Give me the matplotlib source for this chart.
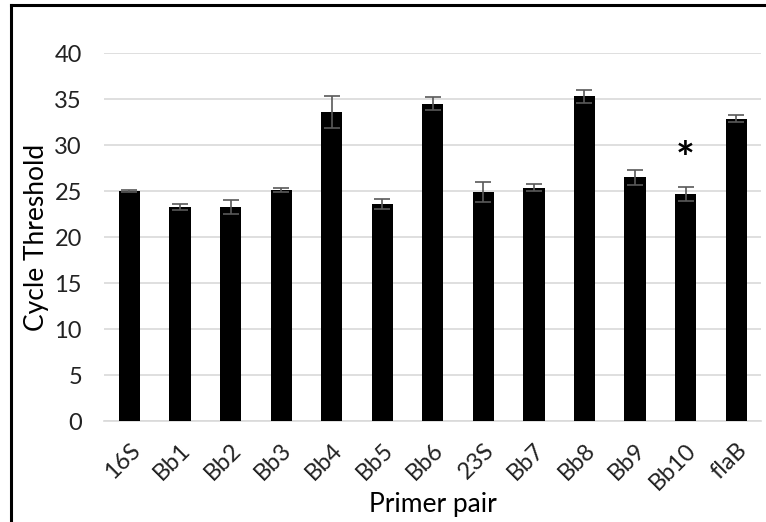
import numpy as np
import matplotlib
matplotlib.use("Agg")
import matplotlib.pyplot as plt
from matplotlib.lines import Line2D

plt.rcParams['font.family'] = ['Lato', 'DejaVu Sans']

# primer pairs and mean cycle thresholds
primers = ["16S", "Bb1", "Bb2", "Bb3", "Bb4", "Bb5", "Bb6",
           "23S", "Bb7", "Bb8", "Bb9", "Bb10", "flaB"]
ct_mean = [25.0, 23.3, 23.3, 25.15, 33.6, 23.6, 34.5,
           24.9, 25.4, 35.3, 26.5, 24.7, 32.9]
ct_err = [0.1, 0.35, 0.8, 0.2, 1.7, 0.55, 0.7,
          1.1, 0.35, 0.7, 0.85, 0.8, 0.35]
star_label = "Bb10"
yticks = [0, 5, 10, 15, 20, 25, 30, 35, 40]

fig = plt.figure(figsize=(7.66, 5.22), dpi=100)
ax = fig.add_axes([0.136, 0.193, 0.858, 0.705])

x = np.arange(len(primers))
ax.bar(x, ct_mean, width=0.42, color="black", zorder=3)
ax.errorbar(x, ct_mean, yerr=ct_err, fmt="none", ecolor="#595959",
            elinewidth=1.2, capsize=6, capthick=1.2, zorder=4)

# significance marker
i = primers.index(star_label)
ax.text(x[i], ct_mean[i] + ct_err[i] + 0.7, "*", ha="center", va="bottom",
        fontsize=32, fontweight="bold")

ax.set_xlim(-0.5, len(primers) - 0.5)
ax.set_ylim(0, 40)
ax.set_yticks(yticks)
ax.set_xticks(x)
ax.set_xticklabels(primers, rotation=45, ha="right", rotation_mode="anchor")
ax.tick_params(axis="both", length=0, labelsize=17, colors="#222222")
ax.tick_params(axis="x", pad=13)
ax.tick_params(axis="y", pad=16)
ax.yaxis.grid(True, color="#d9d9d9", linewidth=1.2, zorder=0)
ax.set_axisbelow(True)
for s in ["top", "right", "left"]:
    ax.spines[s].set_visible(False)
ax.spines["bottom"].set_color("#d9d9d9")
ax.spines["bottom"].set_linewidth(1.2)

ax.set_ylabel("Cycle Threshold", fontsize=19, labelpad=4)
ax.set_xlabel("Primer pair", fontsize=19, labelpad=-1)

# black frame around the figure (left and top edges visible)
fig.add_artist(Line2D([0.015, 0.015], [0.0, 0.99], color="black", lw=2.2,
                      transform=fig.transFigure))
fig.add_artist(Line2D([0.015, 1.0], [0.99, 0.99], color="black", lw=2.2,
                      transform=fig.transFigure))

fig.savefig("out.png", dpi=100)
